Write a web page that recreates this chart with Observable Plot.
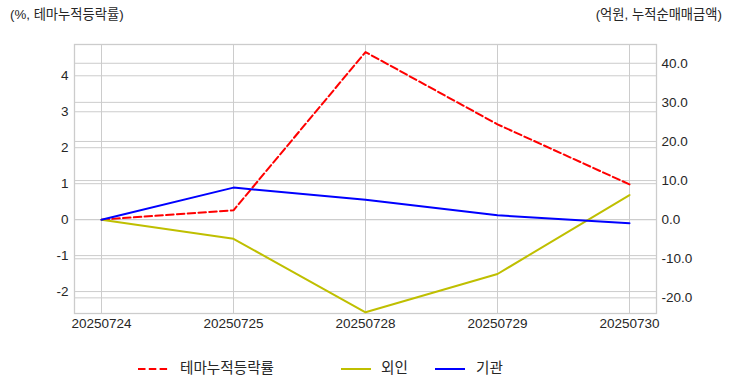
<!DOCTYPE html>
<html><head><meta charset="utf-8">
<script src="https://cdn.jsdelivr.net/npm/d3@7"></script>
<script src="https://cdn.jsdelivr.net/npm/@observablehq/plot@0.6"></script>
<style>
body{margin:0;background:#fff;font-family:"Liberation Sans","Noto Sans CJK KR",sans-serif;}
#wrap{position:relative;width:732px;height:392px;overflow:hidden;}
#wrap svg.chart{position:absolute;left:0;top:0;}
.t{position:absolute;font-size:13.3px;color:#262626;white-space:nowrap;line-height:1;}
.lg{position:absolute;font-size:14.6px;color:#262626;white-space:nowrap;line-height:1;}
.sw{position:absolute;}
</style></head><body><div id="wrap"></div>
<script>
const dates = ["20250724","20250725","20250728","20250729","20250730"];
const themeReturn = [0, 0.26, 4.66, 2.65, 0.98];   // %, left axis
const foreignNet = [0, -4.9, -23.7, -13.9, 6.3];   // 억원, right axis
const instNet = [0, 8.2, 5.1, 1.1, -0.9];          // 억원, right axis
const leftTicks = [-2, -1, 0, 1, 2, 3, 4];
const rightTicks = [-20, -10, 0, 10, 20, 30, 40];
const leftDomain = [-2.61, 4.87];
const rightDomain = [-24.0, 44.8];
const leftTitle = "(%, 테마누적등락률)";
const rightTitle = "(억원, 누적순매매금액)";
const seriesNames = ["테마누적등락률", "외인", "기관"];
const seriesColors = ["#ff0000", "#bfbf00", "#0000ff"];

const toLeft = v => leftDomain[0] + (v - rightDomain[0]) / (rightDomain[1] - rightDomain[0]) * (leftDomain[1] - leftDomain[0]);
const fromLeft = v => rightDomain[0] + (v - leftDomain[0]) / (leftDomain[1] - leftDomain[0]) * (rightDomain[1] - rightDomain[0]);

const rows = dates.map((d, i) => ({date: d, theme: themeReturn[i], foreign: foreignNet[i], inst: instNet[i]}));
const grid = {stroke: "#cccccc", strokeOpacity: 1, strokeWidth: 1};

const chart = Plot.plot({
  width: 732, height: 392,
  marginTop: 44, marginBottom: 79, marginLeft: 74, marginRight: 76,
  style: {fontFamily: '"Liberation Sans","Noto Sans CJK KR",sans-serif', fontSize: "13.5px", color: "#262626", background: "transparent"},
  x: {type: "point", domain: dates, padding: 0.2, axis: null},
  y: {domain: leftDomain, axis: null},
  marks: [
    Plot.gridX(dates, grid),
    Plot.gridY(leftTicks, grid),
    Plot.gridY(rightTicks.map(toLeft), grid),
    Plot.frame({stroke: "#cccccc", strokeWidth: 1.3}),
    Plot.axisX(dates, {tickSize: 0, tickPadding: 5, fontSize: 13.5, fill: "#262626", label: null}),
    Plot.axisY(leftTicks, {anchor: "left", tickSize: 0, tickPadding: 6, fontSize: 13.5, fill: "#262626", label: null, tickFormat: d => String(d).replace("\u2212", "-")}),
    Plot.axisY(rightTicks.map(toLeft), {anchor: "right", tickSize: 0, tickPadding: 5, fontSize: 13.5, fill: "#262626", label: null, tickFormat: d => (Math.round(fromLeft(d) * 10) / 10).toFixed(1)}),
    Plot.line(rows, {x: "date", y: "theme", stroke: seriesColors[0], strokeWidth: 2, strokeDasharray: "7.5,3.3"}),
    Plot.line(rows, {x: "date", y: d => toLeft(d.foreign), stroke: seriesColors[1], strokeWidth: 2}),
    Plot.line(rows, {x: "date", y: d => toLeft(d.inst), stroke: seriesColors[2], strokeWidth: 2})
  ]
});
chart.classList.add("chart");
const wrap = document.getElementById("wrap");
wrap.appendChild(chart);

function addText(cls, txt, left, top, right) {
  const el = document.createElement("div");
  el.className = cls;
  el.textContent = txt;
  if (right !== undefined) el.style.right = right + "px"; else el.style.left = left + "px";
  el.style.top = top + "px";
  wrap.appendChild(el);
}
addText("t", leftTitle, 10, 8);
addText("t", rightTitle, null, 8, 10);

// legend
const legendItems = [
  {x: 138, tx: 180, dash: "7.5,3.3"},
  {x: 341, tx: 381, dash: null},
  {x: 435, tx: 476, dash: null}
];
legendItems.forEach((it, i) => {
  const ns = "http://www.w3.org/2000/svg";
  const s = document.createElementNS(ns, "svg");
  s.setAttribute("width", 30); s.setAttribute("height", 6);
  s.setAttribute("class", "sw");
  s.style.left = it.x + "px"; s.style.top = "366px";
  const l = document.createElementNS(ns, "line");
  l.setAttribute("x1", 0); l.setAttribute("x2", 30); l.setAttribute("y1", 3); l.setAttribute("y2", 3);
  l.setAttribute("stroke", seriesColors[i]); l.setAttribute("stroke-width", 2);
  if (it.dash) l.setAttribute("stroke-dasharray", it.dash);
  s.appendChild(l);
  wrap.appendChild(s);
  addText("lg", seriesNames[i], it.tx, 361);
});
</script></body></html>
